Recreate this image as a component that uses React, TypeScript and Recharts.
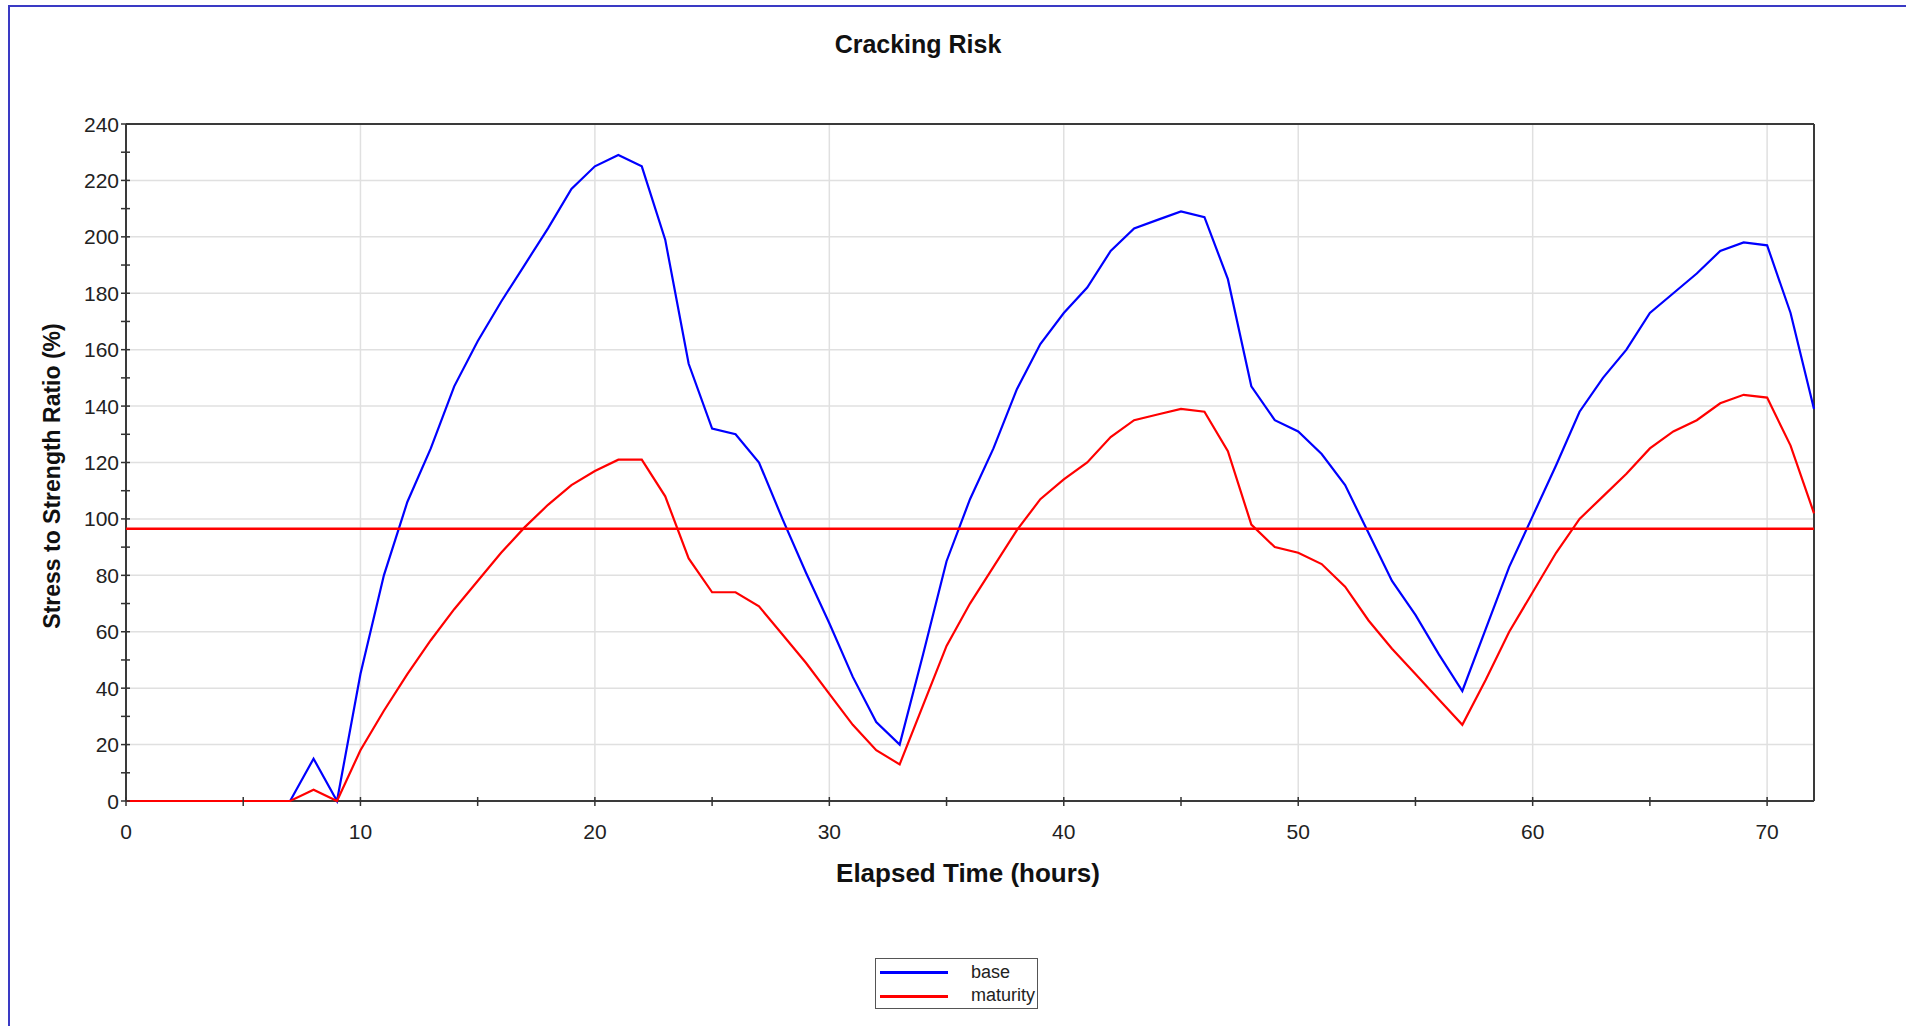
import React from "react";
import {
    LineChart,
    Line,
    XAxis,
    YAxis,
    CartesianGrid,
    ReferenceLine,
} from "recharts";

// elapsed time (hours)
const hours = [
    0, 1, 2, 3, 4, 5, 6, 7, 8, 9, 10, 11, 12, 13, 14, 15, 16, 17, 18, 19, 20,
    21, 22, 23, 24, 25, 26, 27, 28, 29, 30, 31, 32, 33, 34, 35, 36, 37, 38, 39,
    40, 41, 42, 43, 44, 45, 46, 47, 48, 49, 50, 51, 52, 53, 54, 55, 56, 57, 58,
    59, 60, 61, 62, 63, 64, 65, 66, 67, 68, 69, 70, 71, 72,
];

// stress to strength ratio (%) - base
const baseRatio = [
    0, 0, 0, 0, 0, 0, 0, 0, 15, 0, 45, 80, 106, 125, 147, 163, 177, 190, 203,
    217, 225, 229, 225, 199, 155, 132, 130, 120, 100, 81, 63, 44, 28, 20, 52,
    85, 107, 125, 146, 162, 173, 182, 195, 203, 206, 209, 207, 185, 147, 135,
    131, 123, 112, 95, 78, 66, 52, 39, 61, 83, 101, 119, 138, 150, 160, 173,
    180, 187, 195, 198, 197, 173, 139,
];

// stress to strength ratio (%) - maturity
const maturityRatio = [
    0, 0, 0, 0, 0, 0, 0, 0, 4, 0, 18, 32, 45, 57, 68, 78, 88, 97, 105, 112,
    117, 121, 121, 108, 86, 74, 74, 69, 59, 49, 38, 27, 18, 13, 34, 55, 70, 83,
    96, 107, 114, 120, 129, 135, 137, 139, 138, 124, 98, 90, 88, 84, 76, 64,
    54, 45, 36, 27, 43, 60, 74, 88, 100, 108, 116, 125, 131, 135, 141, 144,
    143, 126, 102,
];

const crackingLimit = 96.5;

const xTicks = [0, 5, 10, 15, 20, 25, 30, 35, 40, 45, 50, 55, 60, 65, 70];
const yTicks = [
    0, 10, 20, 30, 40, 50, 60, 70, 80, 90, 100, 110, 120, 130, 140, 150, 160,
    170, 180, 190, 200, 210, 220, 230, 240,
];
const xGrid = [10, 20, 30, 40, 50, 60, 70];
const yGrid = [20, 40, 60, 80, 100, 120, 140, 160, 180, 200, 220];

const data = hours.map((h, i) => ({
    hour: h,
    base: baseRatio[i],
    maturity: maturityRatio[i],
}));

const FONT = '"Liberation Sans", Arial, sans-serif';

function XTick({ x, y, payload }: any) {
    const v = payload.value;
    return (
        <g>
            <line x1={x} x2={x} y1={y - 4} y2={y + 5} stroke="#333" strokeWidth={1.5} />
            {v % 10 === 0 && (
                <text x={x} y={y + 38} textAnchor="middle" fontSize={21} fill="#222" fontFamily={FONT}>
                    {v}
                </text>
            )}
        </g>
    );
}

function YTick({ x, y, payload }: any) {
    const v = payload.value;
    return (
        <g>
            <line x1={x - 5} x2={x + 4} y1={y} y2={y} stroke="#333" strokeWidth={1.5} />
            {v % 20 === 0 && (
                <text x={x - 7} y={y + 7.5} textAnchor="end" fontSize={21} fill="#222" fontFamily={FONT}>
                    {v}
                </text>
            )}
        </g>
    );
}

export default function App() {
    return (
        <div
            style={{
                position: "absolute",
                left: 0,
                top: 0,
                width: 1906,
                height: 1026,
                background: "#fff",
                overflow: "hidden",
                fontFamily: FONT,
            }}
        >
            {/* window frame */}
            <div
                style={{
                    position: "absolute",
                    left: 8,
                    top: 5,
                    width: 1920,
                    height: 1040,
                    borderTop: "2px solid #3a3ac4",
                    borderLeft: "2px solid #3a3ac4",
                }}
            />

            <LineChart
                width={1906}
                height={1026}
                data={data}
                margin={{ top: 124, right: 92, bottom: 165, left: 46 }}
            >
                <CartesianGrid
                    verticalValues={xGrid}
                    horizontalValues={yGrid}
                    stroke="#e0e0e0"
                    strokeWidth={1.5}
                />
                {/* axis lines drawn under the series, so the zero segments stay visible */}
                <CartesianGrid
                    verticalValues={[0, 72]}
                    horizontalValues={[0, 240]}
                    stroke="#3a3a3a"
                    strokeWidth={2}
                />
                <XAxis
                    dataKey="hour"
                    type="number"
                    domain={[0, 72]}
                    ticks={xTicks}
                    interval={0}
                    height={60}
                    tickSize={0}
                    tickMargin={0}
                    tickLine={false}
                    tick={<XTick />}
                    axisLine={false}
                />
                <YAxis
                    type="number"
                    domain={[0, 240]}
                    ticks={yTicks}
                    interval={0}
                    width={80}
                    tickSize={0}
                    tickMargin={0}
                    tickLine={false}
                    tick={<YTick />}
                    axisLine={false}
                />
                <Line
                    type="linear"
                    dataKey="base"
                    stroke="#0000ff"
                    strokeWidth={2.2}
                    dot={false}
                    isAnimationActive={false}
                />
                <Line
                    type="linear"
                    dataKey="maturity"
                    stroke="#ff0000"
                    strokeWidth={2.2}
                    dot={false}
                    isAnimationActive={false}
                />
                <ReferenceLine y={crackingLimit} stroke="#ff0000" strokeWidth={2.5} />
            </LineChart>

            {/* title and axis labels */}
            <div
                style={{
                    position: "absolute",
                    left: 918,
                    top: 44,
                    transform: "translate(-50%, -50%)",
                    fontSize: 25,
                    fontWeight: "bold",
                    whiteSpace: "nowrap",
                    color: "#111",
                }}
            >
                Cracking Risk
            </div>
            <div
                style={{
                    position: "absolute",
                    left: 968,
                    top: 873,
                    transform: "translate(-50%, -50%)",
                    fontSize: 26,
                    fontWeight: "bold",
                    whiteSpace: "nowrap",
                    color: "#111",
                }}
            >
                Elapsed Time (hours)
            </div>
            <div
                style={{
                    position: "absolute",
                    left: 52,
                    top: 476,
                    transform: "translate(-50%, -50%) rotate(-90deg)",
                    fontSize: 23,
                    fontWeight: "bold",
                    whiteSpace: "nowrap",
                    color: "#111",
                }}
            >
                Stress to Strength Ratio (%)
            </div>

            {/* legend */}
            <div
                style={{
                    position: "absolute",
                    left: 875,
                    top: 958,
                    width: 163,
                    height: 51,
                    border: "1.5px solid #555",
                    boxSizing: "border-box",
                    fontSize: 18,
                    color: "#222",
                }}
            >
                <div style={{ position: "absolute", left: 4, top: 12, width: 68, height: 3, background: "#0000ff" }} />
                <div style={{ position: "absolute", left: 95, top: 3, lineHeight: "20px" }}>base</div>
                <div style={{ position: "absolute", left: 4, top: 36, width: 68, height: 3, background: "#ff0000" }} />
                <div style={{ position: "absolute", left: 95, top: 26, lineHeight: "20px" }}>maturity</div>
            </div>
        </div>
    );
}
